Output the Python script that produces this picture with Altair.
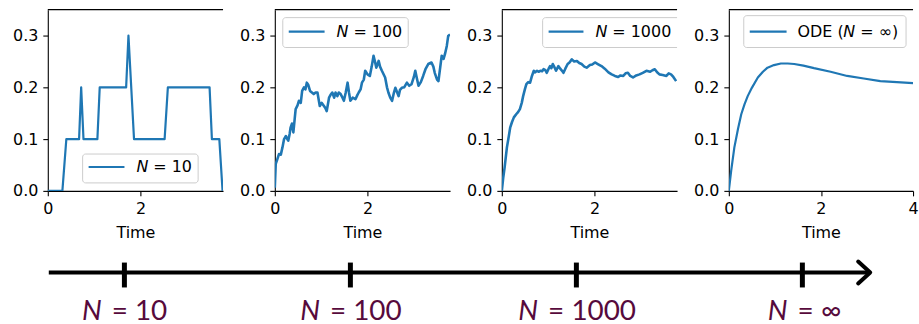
import altair as alt
import pandas as pd

# ---------------- data ----------------
n10_t = [0, 0.315, 0.40, 0.675, 0.72, 0.77, 1.07, 1.12, 1.69, 1.74, 1.86, 2.52, 2.59, 3.49, 3.54, 3.70, 3.77]
n10_y = [0, 0, 0.1, 0.1, 0.2, 0.1, 0.1, 0.2, 0.2, 0.3, 0.1, 0.1, 0.2, 0.2, 0.1, 0.1, 0.0]

n100_t = [0, 0.02, 0.05, 0.09, 0.13, 0.165, 0.2, 0.24, 0.27, 0.29, 0.32, 0.34, 0.37, 0.40, 0.43,
          0.45, 0.49, 0.52, 0.56, 0.59, 0.63, 0.66, 0.69, 0.72, 0.76, 0.80, 0.84, 0.88, 0.92, 0.97,
          1.01, 1.06, 1.09, 1.12, 1.17, 1.20, 1.24, 1.28, 1.31, 1.35, 1.38, 1.42, 1.46, 1.49, 1.53,
          1.57, 1.60, 1.63, 1.68, 1.74, 1.78, 1.81, 1.85, 1.88, 1.92, 1.95, 2.0, 2.05, 2.09, 2.13,
          2.16, 2.19, 2.24, 2.27, 2.31, 2.38, 2.42, 2.45, 2.49, 2.53, 2.57, 2.60, 2.64, 2.67, 2.70,
          2.74, 2.79, 2.85, 2.90, 2.95, 3.0, 3.03, 3.07, 3.10, 3.15, 3.20, 3.25, 3.31, 3.38, 3.42,
          3.45, 3.50, 3.53, 3.57, 3.60, 3.64, 3.67, 3.71, 3.74, 3.78]
n100_y = [0.006, 0.052, 0.06, 0.071, 0.07, 0.084, 0.10, 0.106, 0.10, 0.097, 0.11, 0.122, 0.13, 0.113, 0.14,
          0.158, 0.165, 0.174, 0.17, 0.193, 0.20, 0.196, 0.209, 0.205, 0.193, 0.19, 0.187, 0.19, 0.19, 0.164,
          0.17, 0.164, 0.16, 0.154, 0.18, 0.185, 0.19, 0.18, 0.19, 0.183, 0.19, 0.187, 0.18, 0.174, 0.19,
          0.209, 0.19, 0.174, 0.18, 0.177, 0.185, 0.19, 0.196, 0.209, 0.215, 0.232, 0.225, 0.222, 0.24, 0.261,
          0.25, 0.238, 0.251, 0.24, 0.232, 0.219, 0.20, 0.19, 0.18, 0.174, 0.19, 0.199, 0.19, 0.183, 0.195,
          0.199, 0.20, 0.209, 0.203, 0.206, 0.22, 0.232, 0.215, 0.203, 0.21, 0.222, 0.235, 0.245, 0.248, 0.24,
          0.228, 0.215, 0.212, 0.24, 0.261, 0.255, 0.264, 0.28, 0.299, 0.302]

n1000_t = [0, 0.03, 0.06, 0.11, 0.15, 0.18, 0.22, 0.26, 0.31, 0.35, 0.39, 0.43, 0.46, 0.50, 0.53,
           0.57, 0.61, 0.65, 0.69, 0.72, 0.76, 0.80, 0.83, 0.87, 0.90, 0.94, 0.97, 1.01, 1.04, 1.07,
           1.10, 1.14, 1.17, 1.22, 1.26, 1.30, 1.33, 1.37, 1.42, 1.46, 1.51, 1.56, 1.62, 1.67, 1.72,
           1.78, 1.83, 1.90, 1.95, 2.01, 2.07, 2.15, 2.22, 2.30, 2.37, 2.44, 2.51, 2.56, 2.62, 2.67,
           2.72, 2.77, 2.83, 2.90, 2.97, 3.04, 3.12, 3.20, 3.25, 3.30, 3.35, 3.40, 3.47, 3.55, 3.60,
           3.65, 3.70, 3.76]
n1000_y = [0.0, 0.025, 0.045, 0.084, 0.105, 0.122, 0.133, 0.142, 0.148, 0.152, 0.158, 0.17, 0.183, 0.197, 0.206,
           0.21, 0.209, 0.222, 0.232, 0.229, 0.232, 0.230, 0.232, 0.231, 0.235, 0.233, 0.228, 0.236, 0.241, 0.237,
           0.245, 0.238, 0.232, 0.241, 0.236, 0.232, 0.228, 0.236, 0.245, 0.248, 0.254, 0.25, 0.251, 0.247, 0.245,
           0.24, 0.238, 0.243, 0.244, 0.248, 0.245, 0.241, 0.236, 0.229, 0.225, 0.222, 0.220, 0.223, 0.222, 0.227,
           0.228, 0.222, 0.219, 0.223, 0.225, 0.228, 0.232, 0.230, 0.233, 0.235, 0.229, 0.225, 0.224, 0.222, 0.227,
           0.225, 0.22, 0.212]

ode_t = [0, 0.05, 0.12, 0.2, 0.27, 0.34, 0.41, 0.5, 0.63, 0.74, 0.84, 0.98, 1.13, 1.28, 1.42, 1.62,
         1.85, 2.21, 2.57, 2.93, 3.29, 3.65, 4.0]
ode_y = [0, 0.038, 0.084, 0.12, 0.148, 0.167, 0.183, 0.199, 0.219, 0.23, 0.238, 0.243, 0.246, 0.246,
         0.245, 0.242, 0.237, 0.230, 0.222, 0.217, 0.212, 0.210, 0.208]

y_ticks = [0, 0.1, 0.2, 0.3]
x_ticks_short = [0, 2]
x_ticks_full = [0, 2, 4]
legend_values = ["10", "100", "1000", "∞"]
ode_prefix = "ODE ("
ode_suffix = ")"
axis_title = "Time"
scale_values = ["10", "100", "1000", "∞"]

# ---------------- style ----------------
FONT = "DejaVu Sans"
BLUE = "#1f77b4"
PURPLE = "#570a3c"
Y_MAX = 0.35
ONE = alt.Data(values=[{}])


def text_piece(s, px, py, italic=False):
    return alt.Chart(ONE).mark_text(
        align="left", baseline="alphabetic", font=FONT, fontSize=16,
        fontStyle="italic" if italic else "normal", color="black"
    ).encode(x=alt.value(px), y=alt.value(py), text=alt.value(s))


def panel(t, y, xmax, width, xticks, box, sample, pieces, sw=2.2):
    df = pd.DataFrame({"t": t, "v": y})
    x = alt.X("t:Q", scale=alt.Scale(domain=[0, xmax], nice=False, zero=False),
              axis=alt.Axis(values=xticks, title=axis_title, format="d"))
    yy = alt.Y("v:Q", scale=alt.Scale(domain=[0, Y_MAX], nice=False),
               axis=alt.Axis(values=y_ticks, format=".1f", title=None))
    line = alt.Chart(df).mark_line(color=BLUE, strokeWidth=sw, clip=True,
                                   strokeJoin="round").encode(x=x, y=yy)
    top = alt.Chart(pd.DataFrame({"v": [Y_MAX]})).mark_rule(
        color="black", strokeWidth=1.1).encode(y=alt.Y("v:Q"))
    rect = alt.Chart(ONE).mark_rect(
        fill="white", fillOpacity=0.8, stroke="#cccccc", strokeWidth=1,
        cornerRadius=3, clip=True
    ).encode(x=alt.value(box[0]), x2=alt.value(box[1]),
             y=alt.value(box[2]), y2=alt.value(box[3]))
    samp = alt.Chart(ONE).mark_rule(color=BLUE, strokeWidth=2.2).encode(
        x=alt.value(sample[0]), x2=alt.value(sample[1]), y=alt.value(sample[2]))
    texts = [text_piece(*p) for p in pieces]
    return alt.layer(line, top, rect, samp, *texts).properties(width=width, height=182)


W = 176
p1 = panel(n10_t, n10_y, 3.78, W, x_ticks_short,
           (35, 151, 145, 174), (41, 77, 158),
           [("N", 89, 163, True), ("= " + legend_values[0], 106, 163)])
p2 = panel(n100_t, n100_y, 3.78, W, x_ticks_short,
           (8, 134, 8, 38), (14, 50, 22),
           [("N", 62, 27, True), ("= " + legend_values[1], 79, 27)], sw=2.6)
p3 = panel(n1000_t, n1000_y, 3.78, W, x_ticks_short,
           (41, 180, 8, 38), (47, 82, 22),
           [("N", 94, 27, True), ("= " + legend_values[2], 111, 27)], sw=2.6)
p4 = panel(ode_t, ode_y, 4.0, 185, x_ticks_full,
           (15, 178, 6, 38), (21, 58, 22),
           [(ode_prefix, 69, 27), ("N", 115, 27, True),
            ("= " + legend_values[3] + ode_suffix, 132, 27)])

top_row = alt.hconcat(p1, p2, p3, p4, spacing=15)

# ---------------- bottom arrow (origin = left edge of first plot) ----------------
bdf = pd.DataFrame({"pos": list(range(len(scale_values))), "val": scale_values})
BW = 860
xb = alt.Scale(domain=[-0.339, 3.450], nice=False, zero=False)
base = alt.Chart(bdf).transform_calculate(
    rest="'= ' + datum.val",
    split="datum.pos + (20.2 - (54.8 + 15.6 * length(datum.val)) / 2) / 227",
)
arrow = alt.Chart(ONE).mark_rule(color="black", strokeWidth=4).encode(
    x=alt.value(1), x2=alt.value(825), y=alt.value(32))
head = alt.Chart(ONE).mark_point(
    shape="M -1.1 -1 L 0 0 L -1.1 1", filled=False, color="black",
    strokeWidth=4, size=484, opacity=1, strokeCap="round", strokeJoin="round"
).encode(x=alt.value(826), y=alt.value(32))
ticks = base.mark_rule(color="black", strokeWidth=5).encode(
    x=alt.X("pos:Q", scale=xb, axis=None), y=alt.value(22), y2=alt.value(47))
ntext = base.mark_text(align="right", baseline="alphabetic", font="Lato",
                       fontSize=28, fontStyle="italic", color=PURPLE).encode(
    x=alt.X("split:Q", scale=xb, axis=None), y=alt.value(80), text=alt.value("N"))
rtext = base.mark_text(align="left", baseline="alphabetic", font="Lato",
                       fontSize=28, dx=10, color=PURPLE).encode(
    x=alt.X("split:Q", scale=xb, axis=None), y=alt.value(80), text="rest:N")
bottom = alt.layer(arrow, head, ticks, ntext, rtext).properties(width=BW, height=83)

chart = alt.vconcat(top_row, bottom, spacing=0).properties(
    padding={"left": 12, "top": 8, "right": 0, "bottom": 0}
).configure_view(stroke=None).configure_axis(
    labelFont=FONT, titleFont=FONT, labelFontSize=16, titleFontSize=16,
    titleFontWeight="normal", labelColor="black", titleColor="black",
    tickColor="black", domainColor="black", tickSize=5, labelPadding=5,
    tickWidth=1.1, domainWidth=1.1, grid=False, labelFlush=False,
    labelOverlap=False, titlePadding=8
)

chart.save("out.html", embed_options={"renderer": "svg", "actions": False})
